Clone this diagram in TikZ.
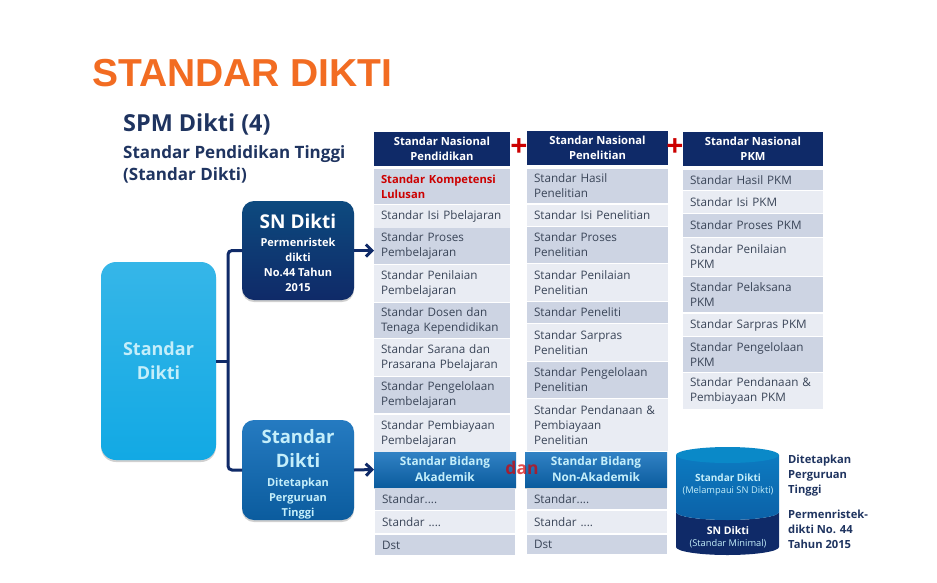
\documentclass[tikz,border=0pt]{standalone}
\usepackage{fontspec}
\setmainfont{Open Sans}
\newfontfamily\titlefont{Liberation Sans}
\usetikzlibrary{arrows.meta,shadows}
\definecolor{navy}{HTML}{0F2A68}
\definecolor{rowdark}{HTML}{CDD4E3}
\definecolor{rowlight}{HTML}{E9ECF3}
\definecolor{rowtext}{HTML}{3A4558}
\definecolor{headtext}{HTML}{1F3460}
\definecolor{midblue}{HTML}{0D6CBA}
\definecolor{pale}{HTML}{C4EEFA}
\definecolor{titleorange}{HTML}{F26C22}
\definecolor{skyblue}{HTML}{12A9E4}
\tikzset{
	rowd/.style={fill=rowdark},
	rowl/.style={fill=rowlight},
	softshadow/.style={drop shadow={shadow xshift=0pt,shadow yshift=-2pt,opacity=0.3,fill=black!60}},
	headbox/.style={fill=navy,text=white,font=\bfseries\fontsize{11.2}{15}\selectfont,align=center,inner sep=0pt,outer sep=0pt,anchor=north west},
	bidangbox/.style={headbox,top color=midblue!85!white,bottom color=midblue!85!black,text=pale,softshadow,font=\bfseries\fontsize{11.8}{16}\selectfont},
	roundbox/.style={rounded corners=12pt,minimum width=112pt,align=center,inner sep=0pt,outer sep=0pt,softshadow},
	wire/.style={navy,line width=3pt,rounded corners=4pt},
	arrowwire/.style={navy,line width=3pt,-{Straight Barb[length=6pt,width=12pt]}},
	sidenote/.style={anchor=west,align=left,inner sep=0pt,text=headtext,font=\bfseries\fontsize{11.2}{15}\selectfont},
	cyltext/.style={align=center,inner sep=0pt,text=pale},
	plusmark/.style={text=red!80!black,inner sep=0pt,font=\bfseries\fontsize{30}{30}\selectfont},
}
\def\stdrow[#1](#2)(#3:#4:#5:#6)#7{\node[#1,anchor=north west,inner xsep=7pt,inner ysep=0pt,outer sep=0pt,text=rowtext,align=left,text width={(#4-14)*1pt},minimum height={(#6-#5)*1pt},font=\fontsize{11.7}{15}\selectfont] (#2) at (#3,#5) {#7};}
\def\headrow[#1](#2)(#3:#4:#5:#6)#7{\node[#1,minimum width={#4*1pt},minimum height={(#6-#5)*1pt}] (#2) at (#3,#5) {#7};}

\begin{document}
\begin{tikzpicture}[x=1pt,y=-1pt]
			%%%%% START %%%%%
			\useasboundingbox[fill=white] (0,0) rectangle (937,582);
			
			\node[anchor=base west,inner sep=0pt,text=titleorange,font=\titlefont\bfseries\fontsize{39}{41}\selectfont] (title) at (92,86.5) {STANDAR DIKTI};
			\node[anchor=base west,inner sep=0pt,text=headtext,font=\bfseries\fontsize{23.4}{24}\selectfont] (spm) at (123,131) {SPM Dikti (4)};
			\node[anchor=north west,align=left,inner sep=0pt,text=headtext,font=\bfseries\fontsize{17}{22}\selectfont] (pt) at (123,145) {Standar Pendidikan Tinggi\\(Standar Dikti)};
			
			\node[roundbox,anchor=north west,minimum width=115pt,minimum height=198pt,rounded corners=15pt,top color=skyblue!85!white,bottom color=skyblue,text=pale,font=\bfseries\fontsize{18}{24}\selectfont] (root) at (101,262) {Standar\\Dikti};
			\node[roundbox,anchor=north west,minimum height=99pt,top color=navy!85!cyan,bottom color=navy,text=white,font=\bfseries\fontsize{11}{15}\selectfont] (sn) at (242,201) {\rule{0pt}{20pt}{\fontsize{19}{24}\selectfont SN Dikti}\\[3pt]Permenristek\\dikti\\No.44 Tahun\\2015};
			\node[roundbox,anchor=north west,minimum height=100pt,top color=midblue!90!white,bottom color=midblue!85!black,text=pale,font=\bfseries\fontsize{11}{15}\selectfont] (pts) at (242,420) {\rule{0pt}{22pt}{\fontsize{18.5}{24}\selectfont Standar}\\[9pt]{\fontsize{18.5}{24}\selectfont Dikti}\\[4pt]Ditetapkan\\Perguruan\\Tinggi};
			
			% kolom pendidikan
			\headrow[headbox](pd0)(374:136:132:166){Standar Nasional\\Pendidikan}
			\stdrow[rowd](pd1)(374:136:169:204){\textcolor{red!80!black}{\bfseries\fontsize{11.2}{15}\selectfont Standar Kompetensi\\Lulusan}}
			\stdrow[rowl](pd2)(374:136:205:228){Standar Isi Pbelajaran}
			\stdrow[rowd](pd3)(374:136:228:264){Standar Proses\\Pembelajaran}
			\stdrow[rowl](pd4)(374:136:265:302){Standar Penilaian\\Pembelajaran}
			\stdrow[rowd](pd5)(374:136:303:338){Standar Dosen dan\\Tenaga Kependidikan}
			\stdrow[rowl](pd6)(374:136:339:376){Standar Sarana dan\\Prasarana  Pbelajaran}
			\stdrow[rowd](pd7)(374:136:377:413){Standar Pengelolaan\\Pembelajaran}
			\stdrow[rowl](pd8)(374:136:415:452){Standar Pembiayaan\\Pembelajaran}
			\headrow[bidangbox](bk)(374:142:452:487){Standar Bidang\\Akademik}
			\stdrow[rowd](bk1)(375:140:488:510){Standar....}
			\stdrow[rowl](bk2)(375:140:511:533){Standar ....}
			\stdrow[rowd](bk3)(375:140:535:555){Dst}
			
			% kolom penelitian
			\headrow[headbox](pn0)(527:141:131:165){Standar Nasional\\Penelitian}
			\stdrow[rowd](pn1)(527:141:169:203){Standar Hasil\\Penelitian}
			\stdrow[rowl](pn2)(527:141:205:226){Standar Isi Penelitian}
			\stdrow[rowd](pn3)(527:141:227:263){Standar Proses\\Penelitian}
			\stdrow[rowl](pn4)(527:141:264:301){Standar Penilaian\\Penelitian}
			\stdrow[rowd](pn5)(527:141:302:323){Standar Peneliti}
			\stdrow[rowl](pn6)(527:141:324:361){Standar Sarpras\\Penelitian}
			\stdrow[rowd](pn7)(527:141:362:398){Standar Pengelolaan\\Penelitian}
			\stdrow[rowl](pn8)(527:141:399:451){Standar Pendanaan \&\\Pembiayaan\\Penelitian}
			\headrow[bidangbox](bn)(525:142:452:487){Standar Bidang\\Non-Akademik}
			\stdrow[rowd](bn1)(527:140:489:509){Standar....}
			\stdrow[rowl](bn2)(527:140:511:533){Standar ....}
			\stdrow[rowd](bn3)(527:140:535:554){Dst}
			
			% kolom pkm
			\headrow[headbox](pk0)(683:140:132:166){Standar Nasional\\PKM}
			\stdrow[rowd](pk1)(683:140:170:190){Standar Hasil PKM}
			\stdrow[rowl](pk2)(683:140:191:213){Standar Isi PKM}
			\stdrow[rowd](pk3)(683:140:214:237){Standar Proses PKM}
			\stdrow[rowl](pk4)(683:140:238:276){Standar Penilaian\\PKM}
			\stdrow[rowd](pk5)(683:140:277:312){Standar Pelaksana\\PKM}
			\stdrow[rowl](pk6)(683:140:314:336){Standar Sarpras PKM}
			\stdrow[rowd](pk7)(683:140:337:372){Standar Pengelolaan\\PKM}
			\stdrow[rowl](pk8)(683:140:373:409){Standar Pendanaan \&\\Pembiayaan PKM}
			
			\node[plusmark] (plusa) at (519,148) {+};
			\node[plusmark] (plusb) at (675,148) {+};
			
			% penghubung
			\coordinate (trunk) at (228,361);
			\draw[wire] (root.east) -- (trunk);
			\draw[wire] (sn.west) -| (trunk);
			\draw[wire] (pts.west) -| (trunk);
			\draw[arrowwire] (sn.east) -- (sn.east -| pd3.west);
			\draw[arrowwire] (pts.east) -- (bk.west);
			
			% silinder
			\fill[navy] (676,512) arc[start angle=180,end angle=360,x radius=51.5pt,y radius=8pt] -- (779,547) arc[start angle=360,end angle=180,x radius=51.5pt,y radius=8pt] -- cycle;
			\shade[top color=midblue!90!cyan,bottom color=midblue!90!black] (676,455) -- (676,512) arc[start angle=180,end angle=360,x radius=51.5pt,y radius=8pt] -- (779,455) -- cycle;
			\fill[midblue!80!cyan] (727.5,455) ellipse[x radius=51.5pt,y radius=8pt];
			\node[cyltext,font=\bfseries\fontsize{10}{12}\selectfont] (cyla) at (728,478) {Standar Dikti};
			\node[cyltext,font=\fontsize{9.3}{10}\selectfont] (cylb) at (728,491) {(Melampaui SN Dikti)};
			\node[cyltext,text=white,font=\bfseries\fontsize{10.5}{12}\selectfont] (cylc) at (728,531) {SN Dikti};
			\node[cyltext,font=\fontsize{9.3}{10}\selectfont] (cyld) at (728,544) {(Standar Minimal)};
			
			\node[sidenote] (notea) at (788,476) {Ditetapkan\\Perguruan\\Tinggi};
			\node[sidenote] (noteb) at (788,529) {Permenristek-\\dikti No. 44\\Tahun 2015};
			
			\node[text=red!85!black,opacity=0.7,inner sep=0pt,font=\bfseries\fontsize{17.5}{18}\selectfont] (dan) at (522,468) {dan};
			%%%%% END %%%%%
		\end{tikzpicture}
\end{document}
